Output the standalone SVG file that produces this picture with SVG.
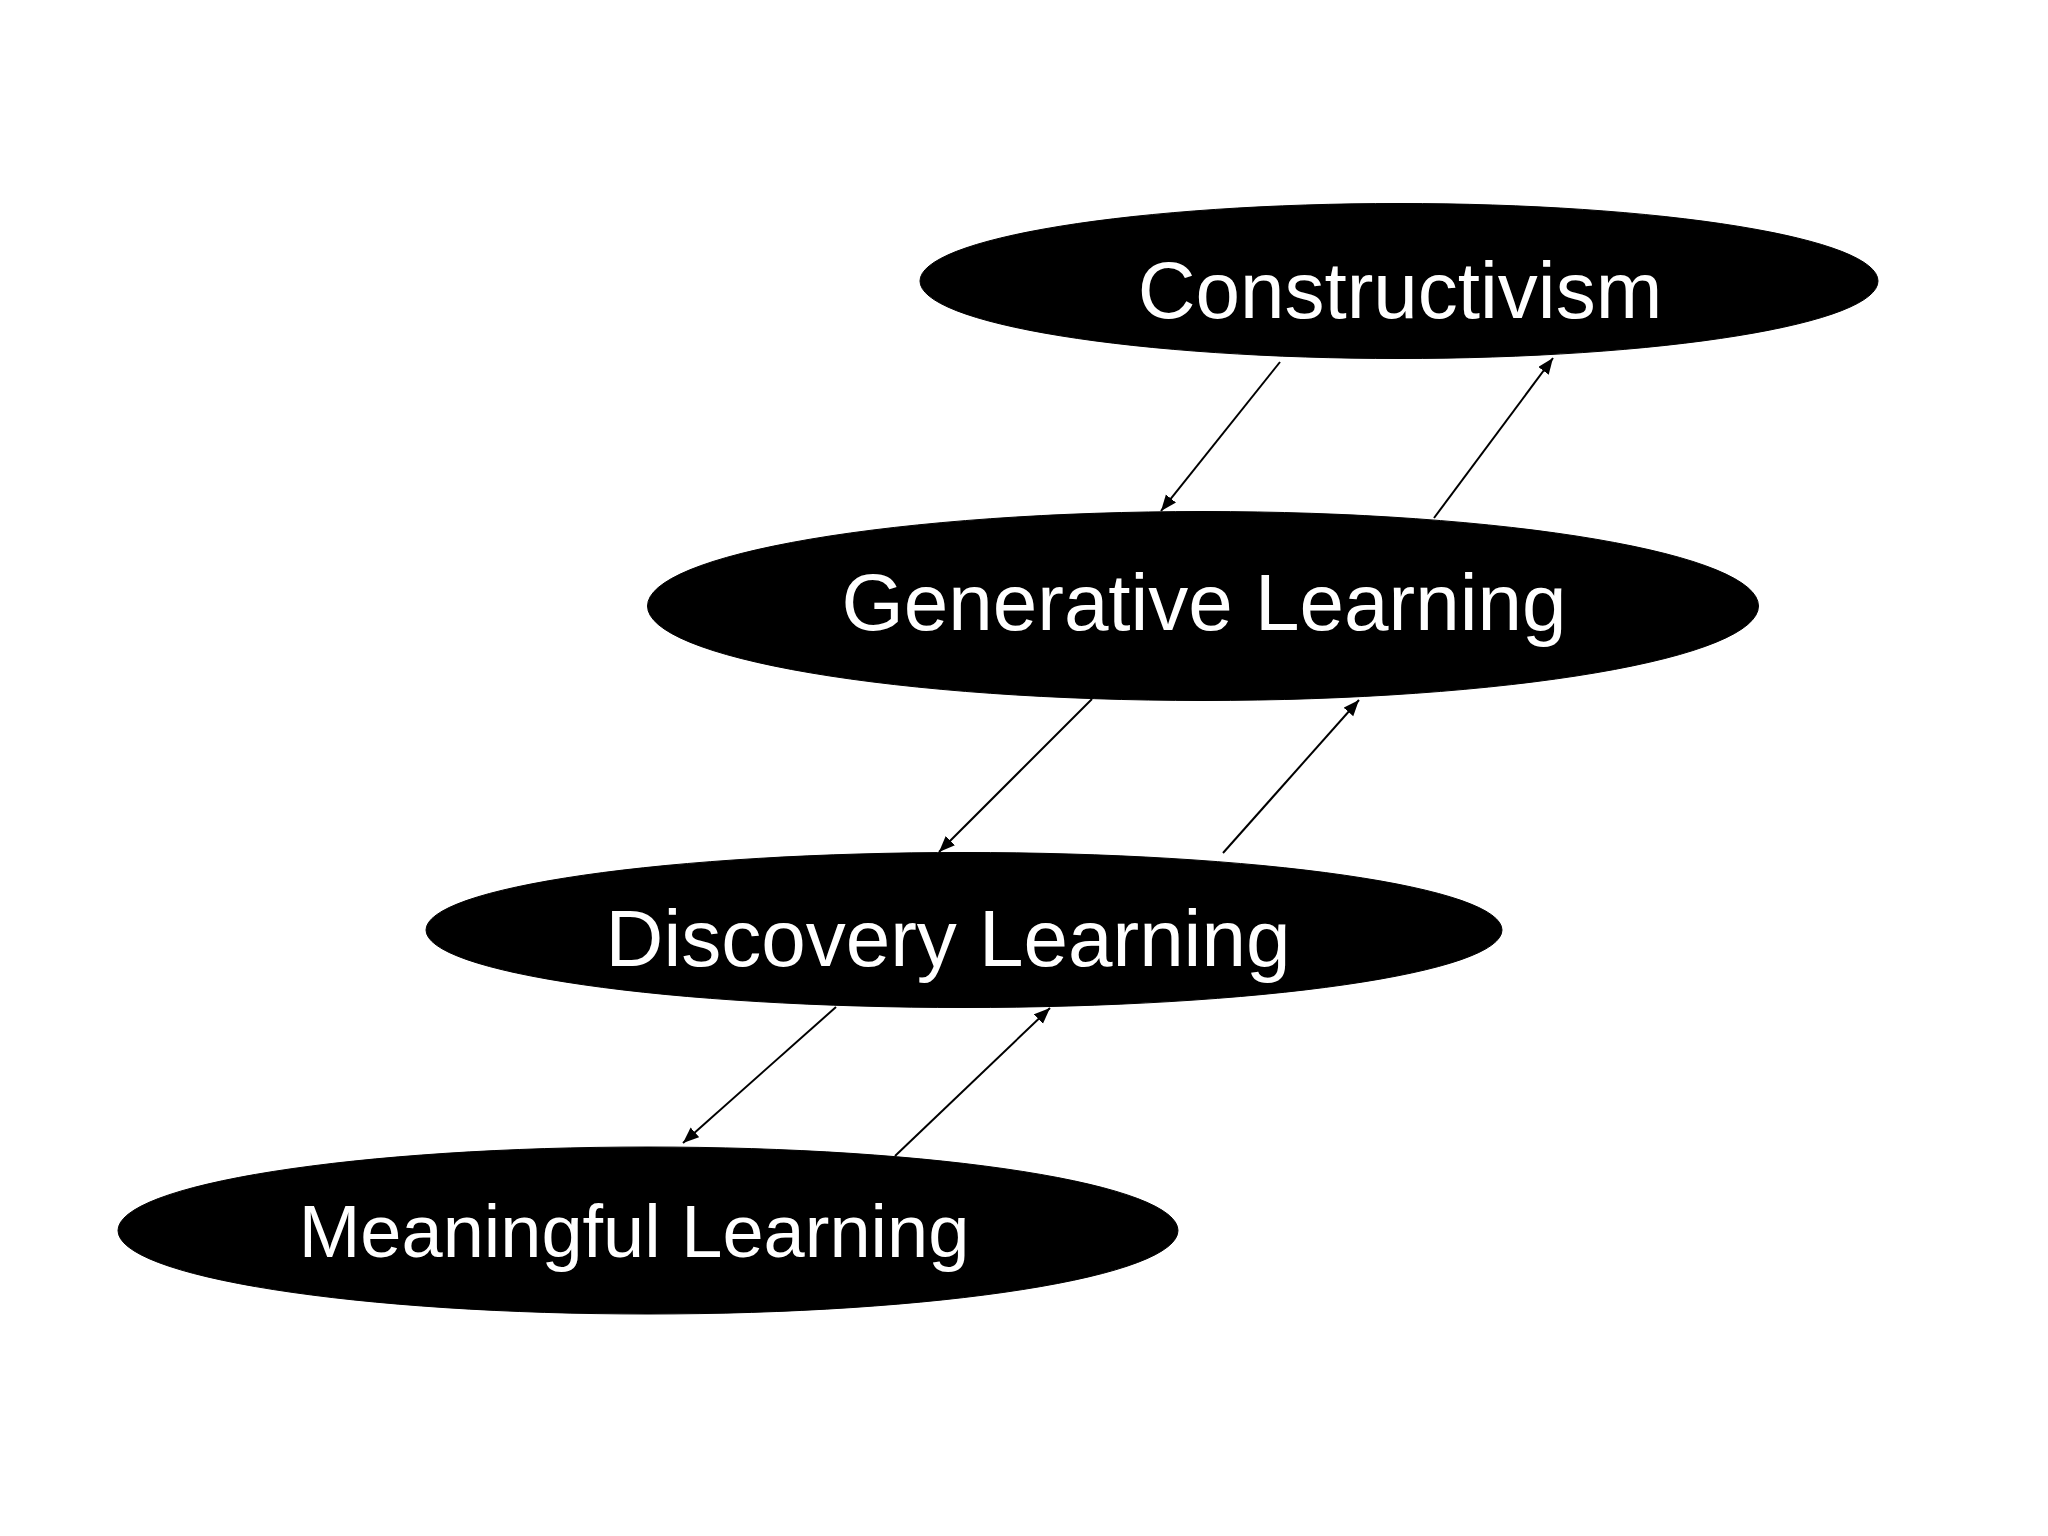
<svg xmlns="http://www.w3.org/2000/svg" width="2048" height="1536" viewBox="0 0 2048 1536">
<style>
.node ellipse{fill:#000;stroke:#000;stroke-width:1}
.node text{fill:#fff;font-family:"Liberation Sans",Arial,sans-serif;font-size:80px;text-anchor:middle}
.edge{stroke:#000;stroke-width:2;fill:none;marker-end:url(#ah)}
</style>
<defs>
<marker id="ah" markerUnits="userSpaceOnUse" markerWidth="18" markerHeight="14" refX="16" refY="6.5" orient="auto">
<path d="M0,0 L16,6.5 L0,13 z" fill="#000"/>
</marker>
</defs>
<rect width="2048" height="1536" fill="#fff"/>
<g id="constructivism" class="node">
<ellipse cx="1399" cy="281" rx="479" ry="77.5"/>
<text x="1400" y="318">Constructivism</text>
</g>
<g id="generative" class="node">
<ellipse cx="1203" cy="606" rx="555.5" ry="94.5"/>
<text x="1204" y="630">Generative Learning</text>
</g>
<g id="discovery" class="node">
<ellipse cx="964" cy="930" rx="538" ry="77.5"/>
<text x="948" y="966">Discovery Learning</text>
</g>
<g id="meaningful" class="node">
<ellipse cx="648" cy="1230.5" rx="530" ry="83.5"/>
<text x="634" y="1257" style="font-size:74px">Meaningful Learning</text>
</g>
<g id="connectors">
<line class="edge" x1="1280" y1="362" x2="1161" y2="511"/>
<line class="edge" x1="1434" y1="518" x2="1553" y2="358"/>
<line class="edge" x1="1092" y1="699" x2="939" y2="852"/>
<line class="edge" x1="1223" y1="853" x2="1359" y2="700"/>
<line class="edge" x1="836" y1="1007" x2="683" y2="1143"/>
<line class="edge" x1="895" y1="1156" x2="1050" y2="1008"/>
</g>
</svg>
